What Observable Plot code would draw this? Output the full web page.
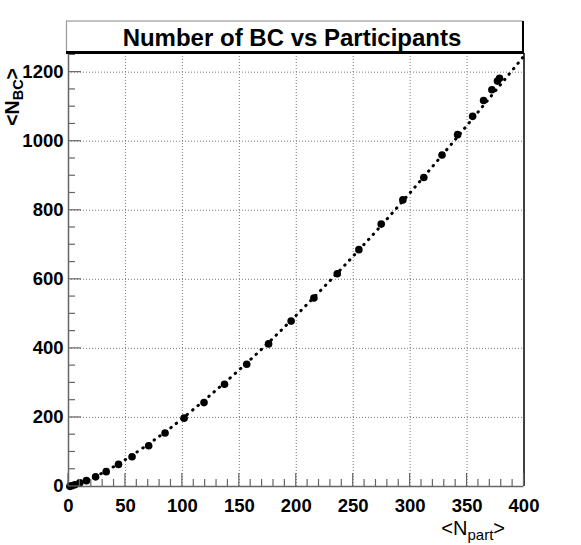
<!DOCTYPE html>
<html><head><meta charset="utf-8">
<script src="https://cdn.jsdelivr.net/npm/d3@7"></script>
<script src="https://cdn.jsdelivr.net/npm/@observablehq/plot@0.6"></script>
<style>html,body{margin:0;padding:0;background:#fff} svg{display:block}</style>
</head><body><div id="chart"></div>
<script>
// ---- data ----
const chartTitle = "Number of BC vs Participants";
const nPart = [1.2, 3, 5.5, 9.9, 15.7, 23.8, 33.1, 43.9, 55.8, 70.4, 84.8, 101.5, 119, 137, 156.5, 175.7, 195.5, 215.5, 236, 255, 274.6, 293.6, 312, 328, 341.7, 354.9, 364.5, 371.8, 376.7, 378.5];
const nBC   = [0.5, 2, 5, 11, 17, 28, 43, 64, 86, 118, 155, 198, 243, 296, 354, 413, 479, 546, 616, 686, 760, 830, 895, 960, 1019, 1072, 1118, 1149, 1174, 1182];
const fitNPart = [0, 10, 25, 50, 75, 100, 150, 200, 250, 300, 350, 400];
const fitNBC   = [0, 9, 31, 78, 134, 197, 338, 496, 667, 851, 1046, 1247];
const xTicks = [0, 50, 100, 150, 200, 250, 300, 350, 400];
const yTicks = [0, 200, 400, 600, 800, 1000, 1200];
const xMinorStep = 10;
const yMinorStep = 50;

const points = nPart.map((x, i) => ({x, y: nBC[i]}));
const fit = fitNPart.map((x, i) => ({x, y: fitNBC[i]}));

const font = "'Liberation Sans', Arial, Helvetica, sans-serif";
const W = 581, H = 545;

const plot = Plot.plot({
  width: W, height: H,
  marginLeft: 68, marginRight: 57.5, marginTop: 53, marginBottom: 59,
  style: {fontFamily: font, background: "white", overflow: "visible"},
  x: {domain: [0, 400]},
  y: {domain: [0, 1254]},
  marks: [
    Plot.gridX({ticks: xTicks.slice(1, -1), stroke: "#7a7a7a", strokeOpacity: 1, strokeDasharray: "1,2"}),
    Plot.gridY({ticks: yTicks.slice(1), stroke: "#7a7a7a", strokeOpacity: 1, strokeDasharray: "1,2"}),
    Plot.axisX({ticks: xTicks, tickFormat: d => String(d), tickSize: 0, tickPadding: 12, fontSize: 18.5, fontWeight: "bold", fill: "black", label: null}),
    Plot.axisY({ticks: yTicks, tickFormat: d => String(d), tickSize: 0, tickPadding: 5, fontSize: 18.5, fontWeight: "bold", fill: "black", label: null}),
    Plot.ruleX([0], {stroke: "#666", strokeWidth: 1.5}),
    Plot.ruleY([0], {stroke: "#666", strokeWidth: 1.5}),
    Plot.ruleX([400], {stroke: "black", strokeWidth: 1.5}),
    Plot.line(fit, {x: "x", y: "y", curve: "natural", stroke: "black", strokeWidth: 3, strokeDasharray: "0.5,6.5", strokeLinecap: "round"}),
    Plot.dot(points, {x: "x", y: "y", r: 3.8, fill: "black", stroke: "none"})
  ]
});

document.getElementById("chart").appendChild(plot);

// ---- tick marks (inward), using the plot's own scales ----
const sx = plot.scale("x"), sy = plot.scale("y");
const svg = d3.select(plot);
const x0 = sx.apply(0), y0 = sy.apply(0);
const tg = svg.append("g").attr("stroke", "#666").attr("stroke-width", 1.2);
d3.range(0, 401, xMinorStep).forEach(v => {
  const major = v % 50 === 0;
  const px = sx.apply(v);
  tg.append("line").attr("x1", px).attr("x2", px).attr("y1", y0).attr("y2", y0 - (major ? 13 : 7));
});
d3.range(0, 1254, yMinorStep).forEach(v => {
  const major = v % 200 === 0;
  const py = sy.apply(v);
  tg.append("line").attr("y1", py).attr("y2", py).attr("x1", x0).attr("x2", x0 + (major ? 13 : 7));
});

// ---- title box ----
const tb = svg.append("g");
tb.append("rect").attr("x", 66.5).attr("y", 21).attr("width", 456).attr("height", 31)
  .attr("fill", "white").attr("stroke", "#999").attr("stroke-width", 1.2);
tb.append("line").attr("x1", 523).attr("x2", 523).attr("y1", 21).attr("y2", 54).attr("stroke", "black").attr("stroke-width", 2);
tb.append("line").attr("x1", 66).attr("x2", 524).attr("y1", 52.5).attr("y2", 52.5).attr("stroke", "black").attr("stroke-width", 3);
tb.append("text").attr("x", 292).attr("y", 46).attr("text-anchor", "middle")
  .attr("font-family", font).attr("font-weight", "bold").attr("font-size", 24).attr("fill", "black")
  .text(chartTitle);

// ---- axis titles ----
const xl = svg.append("text").attr("x", 505).attr("y", 535).attr("text-anchor", "end")
  .attr("font-family", font).attr("font-size", 20).attr("fill", "black");
xl.append("tspan").text("<N");
xl.append("tspan").attr("font-size", 15).attr("dy", 5).text("part");
xl.append("tspan").attr("dy", -5).text(">");

const yl = svg.append("text").attr("transform", "translate(19,68) rotate(-90)").attr("text-anchor", "end")
  .attr("font-family", font).attr("font-weight", "bold").attr("font-size", 19.5).attr("fill", "black");
yl.append("tspan").text("<N");
yl.append("tspan").attr("font-size", 14.5).attr("dy", 4).text("BC");
yl.append("tspan").attr("dy", -4).text(">");
</script>
</body></html>
